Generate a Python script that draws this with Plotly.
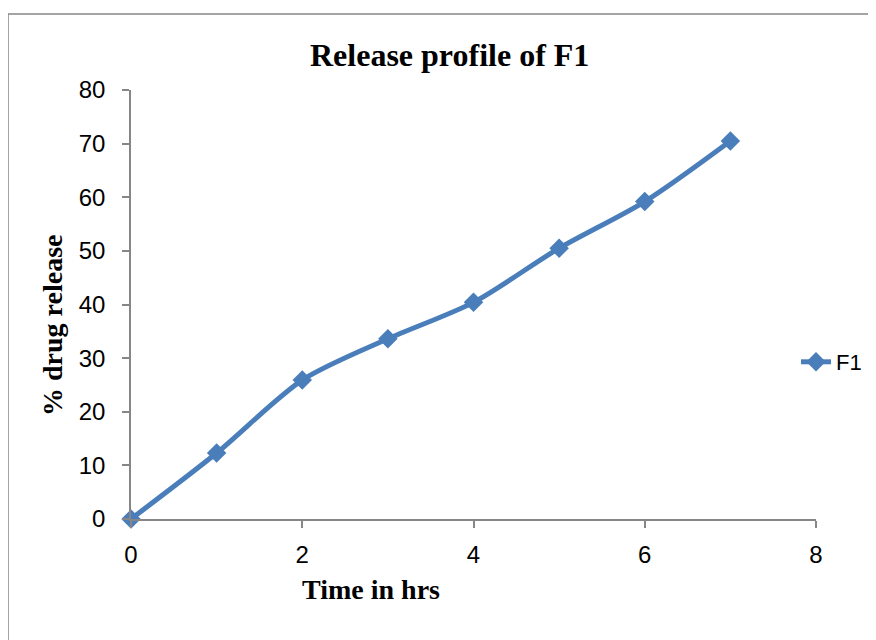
import plotly.graph_objects as go

time_hrs = [0, 1, 2, 3, 4, 5, 6, 7]
drug_release = [0, 12.3, 25.9, 33.6, 40.4, 50.5, 59.2, 70.5]
series_name = "F1"
chart_title = "Release profile of F1"
x_title = "Time in hrs"
y_title = "% drug release"

W, H = 876, 640
OFF = 8  # page body margin in the screenshot
# desired plot area in screenshot pixels
PL, PR, PT, PB = 131, 816, 90, 519
L, T = PL - OFF, PT - OFF
R, B = W - (PR - OFF), H - (PB - OFF)
PW, PH = PR - PL, PB - PT

def px(xp):
    return (xp - PL) / PW

def py(yp):
    return (PB - yp) / PH

blue = "#4A7EBB"
gray = "#868686"

fig = go.Figure()
fig.add_trace(go.Scatter(
    x=time_hrs, y=drug_release, name=series_name,
    mode="lines+markers", cliponaxis=False,
    line=dict(color=blue, width=5, shape="spline", smoothing=0.8),
    marker=dict(symbol="diamond", size=15, color=blue),
))

tickfont = dict(family="Liberation Sans", size=24, color="black")
fig.update_layout(
    width=W, height=H,
    margin=dict(l=L, r=R, t=T, b=B),
    paper_bgcolor="white", plot_bgcolor="white",
    showlegend=True,
    legend=dict(x=px(796), y=py(362), xanchor="left", yanchor="middle",
                font=dict(family="Liberation Sans", size=22, color="black"),
                bgcolor="rgba(0,0,0,0)", itemwidth=30),
    xaxis=dict(range=[0, 8], dtick=2, showgrid=False, zeroline=False,
               showline=True, linecolor=gray, linewidth=1.5,
               ticks="outside", ticklen=7, tickcolor=gray, tickwidth=1.5,
               ticklabelstandoff=6, tickfont=tickfont),
    yaxis=dict(range=[0, 80], dtick=10, showgrid=False, zeroline=False,
               showline=True, linecolor=gray, linewidth=1.5,
               ticks="outside", ticklen=7, tickcolor=gray, tickwidth=1.5,
               ticklabelstandoff=12, tickfont=tickfont),
    shapes=[
        dict(type="line", xref="paper", yref="paper", x0=px(8), x1=px(900), y0=py(14), y1=py(14),
             line=dict(color=gray, width=1.5)),
        dict(type="line", xref="paper", yref="paper", x0=px(8), x1=px(8), y0=py(14), y1=py(660),
             line=dict(color=gray, width=1.5)),
    ],
    annotations=[
        dict(text=chart_title, xref="paper", yref="paper", x=px(449), y=py(55),
             xanchor="center", yanchor="middle", showarrow=False,
             font=dict(family="Liberation Serif", size=32, color="black", weight="bold")),
        dict(text=x_title, xref="paper", yref="paper", x=px(371), y=py(589),
             xanchor="center", yanchor="middle", showarrow=False,
             font=dict(family="Liberation Serif", size=28, color="black", weight="bold")),
        dict(text=y_title, xref="paper", yref="paper", x=px(52), y=py(326),
             xanchor="center", yanchor="middle", showarrow=False, textangle=-90,
             font=dict(family="Liberation Serif", size=28, color="black", weight="bold")),
    ],
)

fig.write_html("out.html")
